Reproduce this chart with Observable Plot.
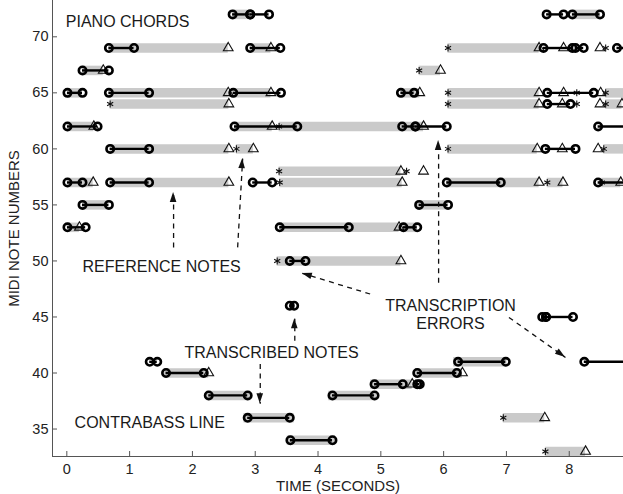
<!DOCTYPE html>
<html><head><meta charset="utf-8">
<script src="https://cdn.jsdelivr.net/npm/d3@7"></script>
<script src="https://cdn.jsdelivr.net/npm/@observablehq/plot@0.6"></script>
<style>body{margin:0;background:#fff}</style>
</head><body><div id="chart"></div>
<script>
// Reference notes (gray bars): [midi, onset s, offset s]
const referenceNotes = [
  [72, 2.64, 2.95], [72, 8.05, 8.49],
  [69, 0.67, 2.57], [69, 2.92, 3.25], [69, 6.07, 7.52],
  [67, 0.25, 0.58], [67, 5.61, 5.95],
  [65, 0.01, 0.25], [65, 0.67, 2.57], [65, 2.64, 3.25], [65, 5.32, 5.62], [65, 6.07, 7.52], [65, 8.58, 8.9],
  [64, 0.69, 2.58], [64, 6.07, 7.52], [64, 8.58, 8.84],
  [62, 0.01, 0.43], [62, 2.67, 3.27], [62, 3.38, 5.68],
  [60, 0.69, 2.58], [60, 2.70, 2.97], [60, 6.07, 7.49], [60, 8.55, 8.9],
  [58, 3.38, 5.32],
  [57, 0.01, 0.42], [57, 0.69, 2.58], [57, 3.39, 5.34], [57, 6.05, 7.52], [57, 7.65, 7.90], [57, 8.52, 8.82],
  [55, 0.25, 0.67], [55, 5.58, 6.07],
  [53, 0.01, 0.20], [53, 3.39, 5.29], [53, 5.35, 5.58],
  [50, 3.35, 5.32],
  [41, 6.16, 7.01],
  [40, 1.55, 2.26], [40, 5.55, 6.30],
  [39, 4.84, 5.50],
  [38, 2.23, 2.93], [38, 4.17, 4.94],
  [36, 2.82, 3.62], [36, 6.95, 7.61],
  [34, 3.51, 4.28],
  [33, 7.62, 8.26]
];
// Transcribed notes (black line, circles at both ends): [midi, onset, offset]
const transcribedNotes = [
  [72, 2.64, 2.92], [72, 2.92, 3.22], [72, 7.64, 7.91], [72, 8.05, 8.49],
  [69, 0.67, 1.07], [69, 2.92, 3.40], [69, 7.59, 8.05], [69, 8.10, 8.23], [69, 8.76, 9.3],
  [67, 0.25, 0.67],
  [65, 0.01, 0.25], [65, 0.67, 1.31], [65, 2.65, 3.41], [65, 5.32, 5.53], [65, 7.65, 8.39],
  [64, 7.65, 8.02],
  [62, 0.01, 0.49], [62, 2.67, 3.67], [62, 5.34, 5.55], [62, 5.55, 6.05], [62, 8.46, 9.3],
  [60, 0.69, 1.31], [60, 7.62, 8.10],
  [57, 0.01, 0.25], [57, 0.69, 1.31], [57, 2.96, 3.27], [57, 6.05, 6.91], [57, 8.46, 9.3],
  [55, 0.25, 0.67], [55, 5.61, 6.07],
  [53, 0.01, 0.30], [53, 3.39, 4.49], [53, 5.36, 5.58],
  [50, 3.55, 3.80],
  [46, 3.55, 3.62],
  [45, 7.57, 7.63], [45, 7.63, 8.06],
  [41, 1.32, 1.44], [41, 6.23, 6.99], [41, 8.24, 9.3],
  [40, 1.58, 2.18], [40, 5.58, 6.21],
  [39, 4.90, 5.35], [39, 5.58, 5.62],
  [38, 2.26, 2.88], [38, 4.23, 4.90],
  [36, 2.88, 3.55],
  [34, 3.56, 4.23]
];
// Triangle markers: [midi, time]
const triangles = [
  [69, 2.57], [69, 3.25], [69, 7.52], [69, 7.91], [69, 8.49],
  [67, 0.58], [67, 5.95],
  [65, 2.57], [65, 3.25], [65, 5.62], [65, 7.52], [65, 7.91], [65, 8.50],
  [64, 2.58], [64, 7.52], [64, 7.89], [64, 8.49], [64, 8.84],
  [62, 0.43], [62, 3.27], [62, 5.68],
  [60, 2.58], [60, 2.97], [60, 7.49], [60, 7.89], [60, 8.46],
  [58, 5.32], [58, 5.68],
  [57, 0.42], [57, 2.58], [57, 5.34], [57, 7.52], [57, 7.90], [57, 8.82],
  [53, 0.20], [53, 5.29],
  [50, 5.32],
  [40, 2.26], [40, 6.30],
  [39, 5.50],
  [36, 7.61],
  [33, 8.26]
];
// Asterisk markers: [midi, time]
const asterisks = [
  [69, 6.07], [69, 8.58],
  [67, 5.61],
  [65, 6.07], [65, 8.12], [65, 8.58],
  [64, 0.69], [64, 6.07], [64, 8.12], [64, 8.58],
  [62, 3.38],
  [60, 2.70], [60, 6.07], [60, 8.55],
  [58, 3.38], [58, 5.41],
  [57, 3.39], [57, 7.65], [57, 8.52],
  [50, 3.35],
  [36, 6.95],
  [33, 7.62]
];
// Annotation labels: [text, time, midi]
const leftLabels = [
  ["PIANO CHORDS", -0.016, 71.3]
];
const centerLabels = [
  ["REFERENCE NOTES", 1.51, 49.49],
  ["TRANSCRIBED NOTES", 3.26, 41.84],
  ["TRANSCRIPTION", 6.11, 46.01],
  ["ERRORS", 6.11, 44.38],
  ["CONTRABASS LINE", 1.32, 35.59]
];
// Dashed annotation arrows: [t1, p1, t2, p2]
const arrows = [
  [1.70, 51.21, 1.70, 56.10],
  [2.72, 51.21, 2.80, 59.13],
  [3.63, 42.88, 3.63, 44.85],
  [3.08, 40.80, 3.08, 37.26],
  [5.92, 48.06, 5.92, 60.74],
  [4.83, 47.05, 3.75, 48.89],
  [7.04, 44.96, 7.94, 41.39]
];
const xTicks = [0, 1, 2, 3, 4, 5, 6, 7, 8];
const yTicks = [35, 40, 45, 50, 55, 60, 65, 70];
const xDomain = [-0.228, 8.864];
const yDomain = [32.55, 73.24];

const ref = referenceNotes.map(([p, s, e]) => ({p, s, e}));
const tr = transcribedNotes.map(([p, s, e]) => ({p, s, e}));
const ends = tr.flatMap(d => [{p: d.p, t: d.s}, {p: d.p, t: d.e}]);
const tri = triangles.map(([p, t]) => ({p, t}));
const ast = asterisks.map(([p, t]) => ({p, t}));
const labL = leftLabels.map(([text, t, p]) => ({text, t, p}));
const labC = centerLabels.map(([text, t, p]) => ({text, t, p}));
const arr = arrows.map(([t1, p1, t2, p2]) => ({t1, p1, t2, p2}));

const arrowHeads = (index, scales) => {
  const g = d3.create("svg:g").attr("fill", "#111");
  for (const a of arr) {
    const x1 = scales.x(a.t1), y1 = scales.y(a.p1), x2 = scales.x(a.t2), y2 = scales.y(a.p2);
    const ang = Math.atan2(y2 - y1, x2 - x1);
    const L = 10, W = 3.3;
    const bx = x2 - L * Math.cos(ang), by = y2 - L * Math.sin(ang);
    const nx = -Math.sin(ang) * W, ny = Math.cos(ang) * W;
    g.append("path").attr("d", `M${x2},${y2}L${bx + nx},${by + ny}L${bx - nx},${by - ny}Z`);
  }
  return g.node();
};

const chart = Plot.plot({
  width: 623, height: 494,
  marginLeft: 52, marginRight: 0, marginTop: 0, marginBottom: 38,
  x: {domain: xDomain},
  y: {domain: yDomain},
  style: {fontFamily: "'Liberation Sans', Arial, sans-serif", background: "#fff", color: "#222"},
  marks: [
    Plot.ruleY(ref, {y: "p", x1: "s", x2: "e", stroke: "#cacaca", strokeWidth: 9.5}),
    Plot.dot(tri, {x: "t", y: "p", symbol: "triangle", r: 3.6, stroke: "#111", strokeWidth: 1.1, fill: "none"}),
    Plot.dot(ast, {x: "t", y: "p", symbol: "asterisk", r: 3.3, stroke: "#111", strokeWidth: 1.1}),
    Plot.ruleY(tr, {y: "p", x1: "s", x2: "e", stroke: "#000", strokeWidth: 2.4}),
    Plot.dot(ends, {x: "t", y: "p", r: 3.7, stroke: "#000", strokeWidth: 2.6, fill: "none"}),
    Plot.link(arr, {x1: "t1", y1: "p1", x2: "t2", y2: "p2", stroke: "#111", strokeWidth: 1.3, strokeDasharray: "5,4.5"}),
    arrowHeads,
    Plot.text(labL, {x: "t", y: "p", text: "text", textAnchor: "start", fontSize: 16, fill: "#1a1a1a"}),
    Plot.text(labC, {x: "t", y: "p", text: "text", textAnchor: "middle", fontSize: 16, fill: "#1a1a1a"}),
    Plot.ruleX([xDomain[0]], {stroke: "#555"}),
    Plot.ruleY([yDomain[0]], {stroke: "#555"}),
    Plot.axisX(xTicks, {tickSize: 5, dy: -5, tickPadding: 7, fontSize: 14.5, label: null, stroke: "#555", fill: "#222"}),
    Plot.axisY(yTicks, {tickSize: 5, dx: 5, tickPadding: 4, fontSize: 14.5, label: null, stroke: "#555", fill: "#222"}),
    Plot.text(["TIME (SECONDS)"], {frameAnchor: "bottom", dy: 30, lineAnchor: "middle", textAnchor: "middle", fontSize: 15, fill: "#222"}),
    Plot.text(["MIDI NOTE NUMBERS"], {frameAnchor: "left", dx: -38, rotate: -90, textAnchor: "middle", lineAnchor: "middle", fontSize: 15, fill: "#222"})
  ]
});
document.getElementById("chart").appendChild(chart);
</script></body></html>
